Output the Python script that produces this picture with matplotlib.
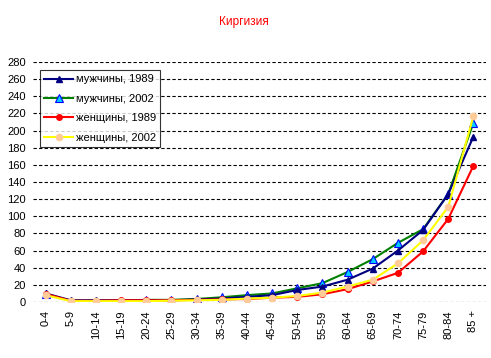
import numpy as np
import matplotlib
matplotlib.use("Agg")
import matplotlib.pyplot as plt

plt.rcParams['font.family'] = ['Liberation Sans', 'DejaVu Sans']

# age groups
ages = ['0-4', '5-9', '10-14', '15-19', '20-24', '25-29', '30-34', '35-39', '40-44',
        '45-49', '50-54', '55-59', '60-64', '65-69', '70-74', '75-79', '80-84', '85 +']

# values
men_1989 = [10, 2, 2, 2, 2, 2, 3, 4, 6, 8, 14, 18, 26, 39, 60, 84, 126, 193]
men_2002 = [9, 1.5, 1.5, 1.5, 2.5, 2.5, 3.5, 5.5, 8, 10, 16, 22, 35, 50, 69, 85, 126, 209]
women_1989 = [9.5, 1.5, 1.5, 2, 2, 2, 2.5, 3, 3.5, 5, 6, 9, 15, 24, 34, 59, 97, 159]
women_2002 = [8, 1, 1, 1, 1, 1.5, 2, 2.5, 4, 5, 7, 11, 18, 26, 45, 72, 111, 217]

fig = plt.figure(figsize=(4.91, 3.58), dpi=100)
ax = fig.add_axes([33 / 491, 1 - 302 / 358, 453 / 491, 240 / 358])

x = np.arange(len(ages))
ax.plot(x, men_1989, color='#000080', lw=1.5, marker='^', ms=5,
        mfc='#000080', mec='#000080', label='мужчины, 1989', zorder=4)
ax.plot(x, men_2002, color='#008000', lw=1.5, marker='^', ms=5.5,
        mfc='#00ccff', mec='#0000ff', mew=0.8, label='мужчины, 2002', zorder=3)
ax.plot(x, women_1989, color='#ff0000', lw=1.5, marker='o', ms=4,
        mfc='#ff0000', mec='#ff0000', label='женщины, 1989', zorder=5)
ax.plot(x, women_2002, color='#ffff00', lw=1.5, marker='o', ms=4.5,
        mfc='#ffcc99', mec='#ffcc99', label='женщины, 2002', zorder=6)

ax.set_xlim(-0.5, len(ages) - 0.5)
ax.set_ylim(0, 280)
ax.set_yticks(range(0, 281, 20))
ax.set_xticks(x)
ax.set_xticklabels(ages, rotation=90)
ax.tick_params(axis='both', length=0, labelsize=8, pad=5)
ax.tick_params(axis='x', pad=6)

ax.grid(axis='y', color='black', ls=(0, (3, 2)), lw=0.8)
ax.set_axisbelow(True)
for s in ax.spines.values():
    s.set_visible(False)

leg = ax.legend(loc='upper left', bbox_to_anchor=(7 / 453, 232 / 240), fontsize=8,
                frameon=True, fancybox=False, edgecolor='black', borderpad=0.4,
                handlelength=2.6, handletextpad=0.2, labelspacing=0.85,
                borderaxespad=0)
leg.get_frame().set_linewidth(0.8)

fig.text(244 / 491, 1 - 22 / 358, 'Киргизия', color='#ff0000', fontsize=8.5,
         ha='center', va='center')

fig.savefig('out.png', dpi=100)
